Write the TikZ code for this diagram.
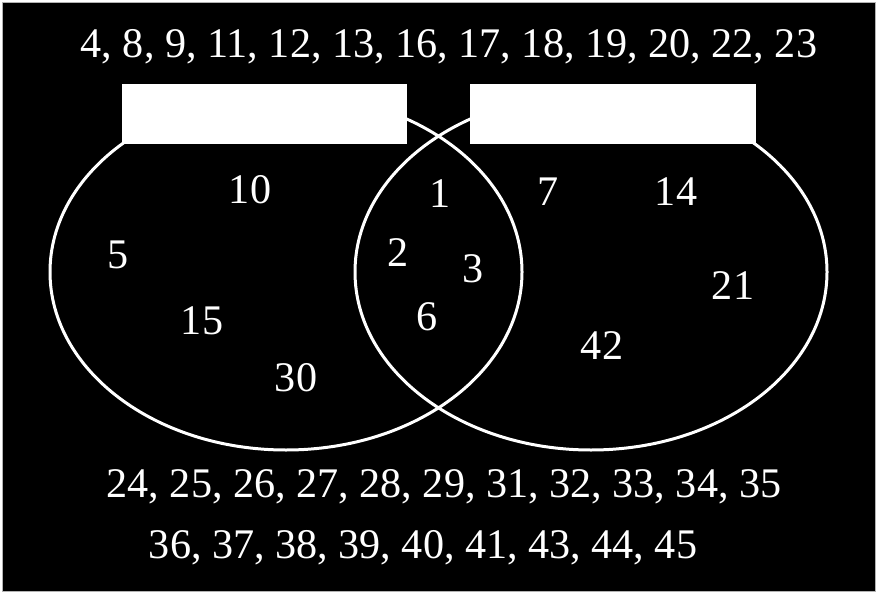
\documentclass[tikz,border=0pt]{standalone}
\usepackage{fontspec}
\setmainfont{Liberation Serif}
\begin{document}
\begin{tikzpicture}[x=0.02cm, y=-0.02cm,
      N/.style={text=white, anchor=base, inner sep=0pt, font=\fontsize{24}{29}\selectfont},
      E/.style={draw=white, line width=0.06cm}
    ]
    \useasboundingbox (0,0) rectangle (878,594);
    \fill [white] (0,0) rectangle (878,594);
    \filldraw [fill=black, draw=gray!60, line width=0.02cm] (2.5,2.5) rectangle (875.5,591);
    % the two sets
    \draw [E] (286,272) ellipse [x radius=236, y radius=178];
    \draw [E] (591,272) ellipse [x radius=236, y radius=178];
    \fill [white] (122,84) rectangle (407,144);
    \fill [white] (470,84) rectangle (756,144);
    % outside
    \node [N] (top) at (449,58) {4, 8, 9, 11, 12, 13, 16, 17, 18, 19, 20, 22, 23};
    \node [N] (bot1) at (444,497) {24, 25, 26, 27, 28, 29, 31, 32, 33, 34, 35};
    \node [N] (bot2) at (423,558) {36, 37, 38, 39, 40, 41, 43, 44, 45};
    % left only
    \node [N] (n10) at (250,204) {10};
    \node [N] (n5) at (118,269) {5};
    \node [N] (n15) at (202,334) {15};
    \node [N] (n30) at (296,391) {30};
    % both
    \node [N] (n1) at (440,208) {1};
    \node [N] (n2) at (398,267) {2};
    \node [N] (n3) at (473,282) {3};
    \node [N] (n6) at (427,330) {6};
    % right only
    \node [N] (n7) at (548,206) {7};
    \node [N] (n14) at (676,206) {14};
    \node [N] (n21) at (733,299) {21};
    \node [N] (n42) at (602,359) {42};
  \end{tikzpicture}
\end{document}
